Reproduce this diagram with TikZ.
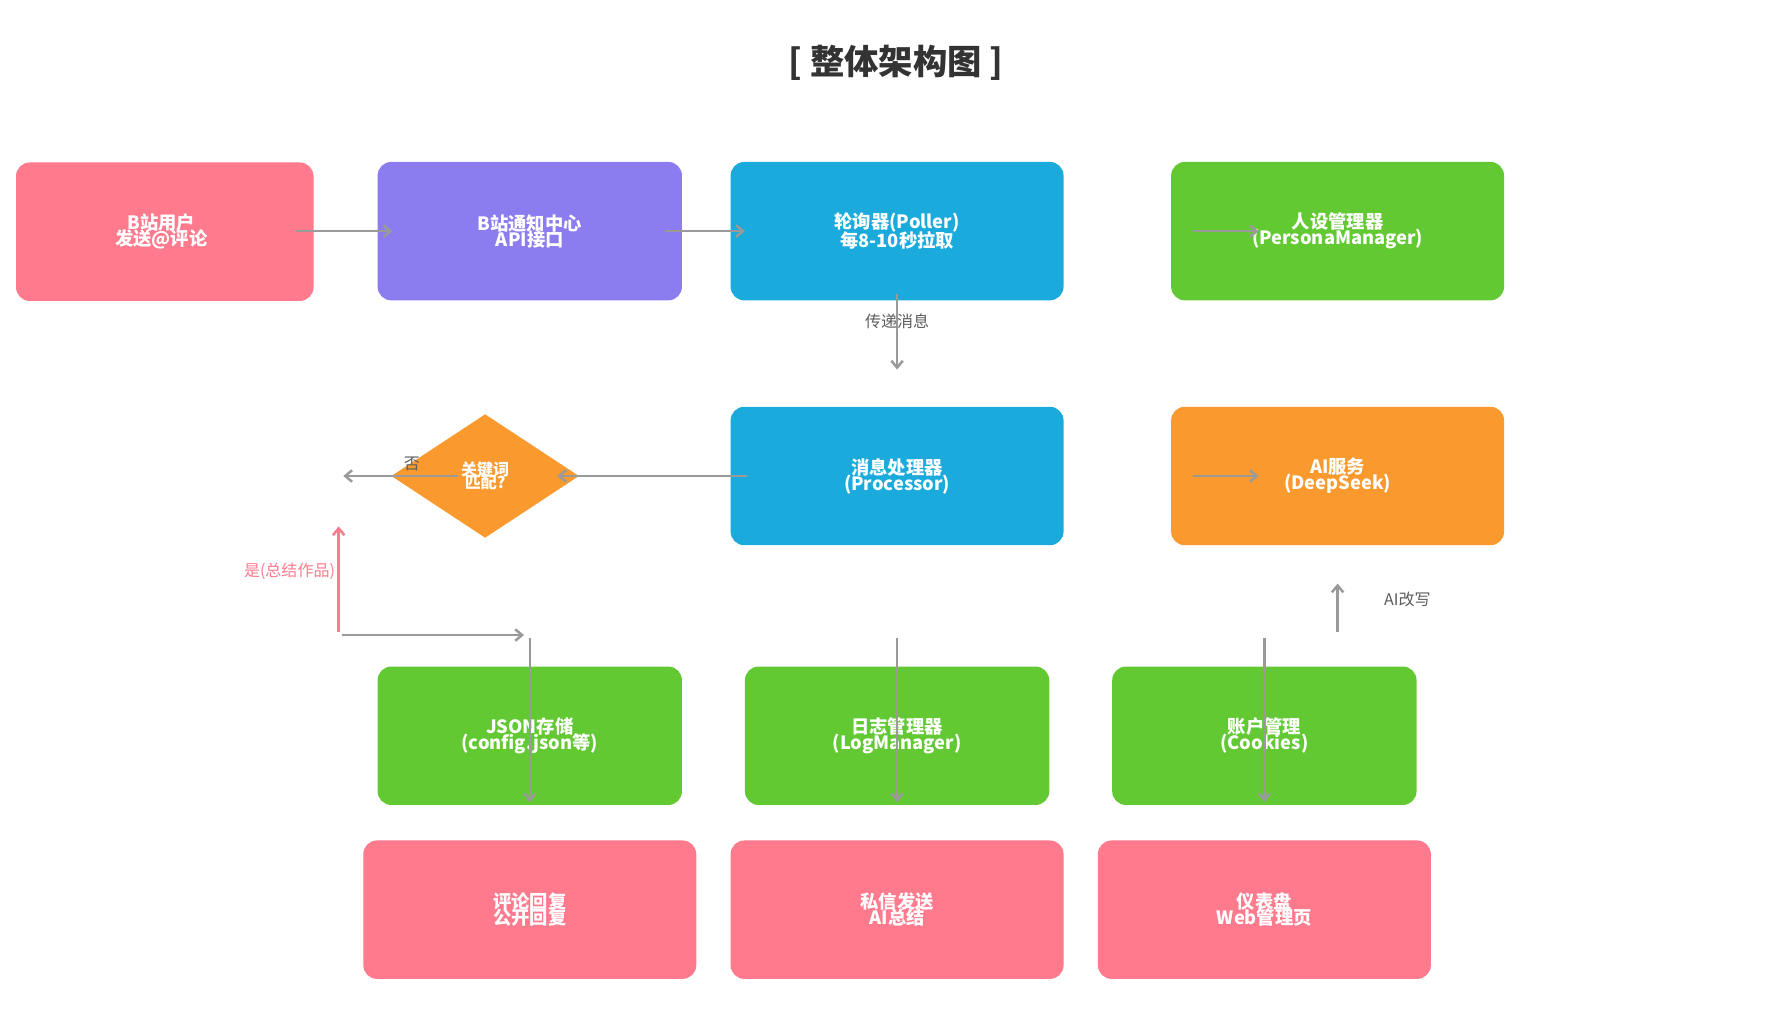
\documentclass[tikz,border=0pt]{standalone}
\usepackage{fontspec}
\setmainfont{Noto Sans CJK SC}
\usetikzlibrary{shapes.geometric}
\definecolor{bpink}{HTML}{FF7A8C}
\definecolor{bpurple}{HTML}{8B7CF0}
\definecolor{bblue}{HTML}{1AAADB}
\definecolor{bgreen}{HTML}{62C933}
\definecolor{borange}{HTML}{FA9A2E}
\definecolor{lgray}{HTML}{9A9A9A}
\definecolor{tgray}{HTML}{333333}
\tikzset{
  box/.style={rounded corners=12pt, minimum width=291pt, minimum height=121pt,
    text=white, font=\fontsize{16}{16}\selectfont\bfseries, align=center, inner sep=0pt},
  sbox/.style={box, minimum width=266pt},
  flow/.style={draw=lgray, line width=2.2pt, -{Straight Barb[length=6pt,width=10pt]}},
  lbl/.style={font=\fontsize{14}{14}\selectfont, text=tgray!80}
}
\usetikzlibrary{arrows.meta}
\begin{document}
\begin{tikzpicture}[x=1pt, y=-1pt]
      \useasboundingbox (0, 0) rectangle (1560, 905);
      \node[font=\fontsize{30}{30}\selectfont\bfseries, text=tgray] (title) at (783, 55){[ 整体架构图 ]};

      % row 1
      \fill[bpink, rounded corners=12pt] (14, 142) rectangle (274, 263);
      \node[text=white, font=\fontsize{16}{16}\selectfont\bfseries, align=center] (user) at (141, 202){B站用户\\[-2pt]发送@评论};
      \node[sbox, fill=bpurple] (api) at (463, 202){B站通知中心\\[-2pt]API接口};
      \node[box, fill=bblue] (poll) at (784, 202){轮询器(Poller)\\[-2pt]每8-10秒拉取};
      \node[box, fill=bgreen] (pers) at (1169, 202){人设管理器\\[-2pt](PersonaManager)};

      % row 2
      \node[box, fill=bblue] (proc) at (784, 416){消息处理器\\[-2pt](Processor)};
      \node[box, fill=borange] (ai) at (1169, 416){AI服务\\[-2pt](DeepSeek)};
      \node[diamond, fill=borange, minimum width=164pt, minimum height=108pt, inner sep=0pt,
        text=white, font=\fontsize{14}{14}\selectfont\bfseries, align=center] (kw) at (424, 416){关键词\\[-3pt]匹配?};

      % row 3
      \node[sbox, fill=bgreen] (json) at (463, 643){JSON存储\\[-2pt](config.json等)};
      \node[sbox, fill=bgreen] (log) at (784, 643){日志管理器\\[-2pt](LogManager)};
      \node[sbox, fill=bgreen] (acct) at (1105, 643){账户管理\\[-2pt](Cookies)};

      % row 4
      \node[box, fill=bpink] (reply) at (463, 795){评论回复\\[-2pt]公开回复};
      \node[box, fill=bpink] (dm) at (784, 795){私信发送\\[-2pt]AI总结};
      \node[box, fill=bpink] (dash) at (1105, 795){仪表盘\\[-2pt]Web管理页};

      % connectors
      \coordinate (a1) at (259, 202); \coordinate (a2) at (343, 202);
      \coordinate (b1) at (581, 202); \coordinate (b2) at (651, 202);
      \coordinate (c1) at (784, 257); \coordinate (c2) at (784, 323);
      \coordinate (d1) at (1043, 202); \coordinate (d2) at (1100, 202);
      \coordinate (e1) at (653, 416); \coordinate (e2) at (487, 416);
      \coordinate (f1) at (400, 416); \coordinate (f2) at (300, 416);
      \coordinate (g1) at (296, 552); \coordinate (g2) at (296, 460);
      \coordinate (h1) at (299, 555); \coordinate (h2) at (458, 555);
      \coordinate (i1) at (463, 558); \coordinate (i2) at (463, 701);
      \coordinate (j1) at (784, 558); \coordinate (j2) at (784, 701);
      \coordinate (k1) at (1105, 558); \coordinate (k2) at (1105, 701);
      \coordinate (m1) at (1169, 552); \coordinate (m2) at (1169, 510);
      \coordinate (n1) at (1043, 416); \coordinate (n2) at (1100, 416);

      \draw[flow] (a1) to (a2);
      \draw[flow] (b1) to (b2);
      \draw[flow] (c1) to (c2);
      \draw[flow] (d1) to (d2);
      \draw[flow] (e1) to (e2);
      \draw[flow] (f1) to (f2);
      \draw[flow, draw=bpink] (g1) to (g2);
      \draw[flow] (h1) to (h2);
      \draw[flow] (i1) to (i2);
      \draw[flow] (j1) to (j2);
      \draw[flow] (k1) to (k2);
      \draw[flow] (m1) to (m2);
      \draw[flow] (n1) to (n2);

      \node[lbl] (lpass) at (784, 281){传递消息};
      \node[lbl] (lno) at (360, 405){否};
      \node[lbl, text=bpink] (lyes) at (253, 499){是(总结作品)};
      \node[lbl] (lai) at (1230, 524){AI改写};
    \end{tikzpicture}
\end{document}
